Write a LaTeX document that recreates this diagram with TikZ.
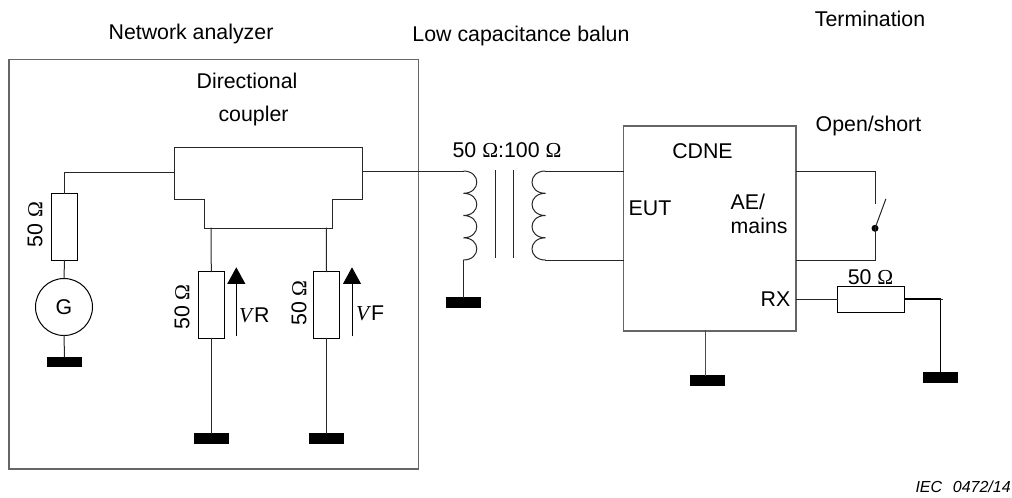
\documentclass[tikz,border=0pt]{standalone}
\usepackage{fontspec}
\setmainfont{Liberation Sans}
\newfontfamily\serifom{Liberation Serif}
\usetikzlibrary{arrows.meta}
\newcommand{\Om}{{\serifom Ω}}
\newcommand{\Vi}{{\serifom\itshape V}}
\tikzset{
  wire/.style={line width=0.75pt,black!85,line cap=rect},
  lbl/.style={inner sep=0pt,outer sep=0pt,font=\fontsize{16pt}{19pt}\selectfont},
  resv/.style={draw,line width=0.75pt,inner sep=0pt,outer sep=0pt,minimum width=19.8pt,minimum height=50pt},
  resh/.style={draw,line width=0.75pt,inner sep=0pt,outer sep=0pt,minimum width=50pt,minimum height=19.5pt},
  gnd/.style={fill=black,inner sep=0pt,outer sep=0pt,minimum width=26.25pt,minimum height=7.8pt},
  sense/.style={line width=0.75pt,-{Triangle[length=12.5pt,width=13.5pt]}},
  frame/.style={draw=black!60,line width=1.1pt,inner sep=0pt,outer sep=0pt},
}
\begin{document}
\begin{tikzpicture}[x=0.75pt,y=-0.75pt]
\useasboundingbox (0,0) rectangle (1012,497);
% enclosure
\node[frame,minimum width=307pt,minimum height=307.3pt] (analyzer) at (213.7,264.2) {};
% directional coupler
\coordinate (cA) at (174.3,147.3);
\coordinate (cB) at (362.7,147.3);
\coordinate (cC) at (362.7,199.3);
\coordinate (cD) at (332.3,199.3);
\coordinate (cE) at (332.3,228);
\coordinate (cF) at (204.7,228);
\coordinate (cG) at (204.7,199.3);
\coordinate (cH) at (174.3,199.3);
\draw[wire,line cap=butt,line join=miter] (cA)--(cB)--(cC)--(cD)--(cE)--(cF)--(cG)--(cH)--cycle;
\coordinate (cIn) at (174.3,172.3);
\coordinate (cOut) at (362.7,171);
\coordinate (cR) at (211,228);
\coordinate (cFw) at (326.3,228);
% source branch
\node[resv] (r1) at (64.5,227) {};
\node[draw,circle,line width=0.75pt,inner sep=0pt,outer sep=0pt,minimum size=42.75pt] (G) at (64,307) {};
\node[lbl] (Gt) at (64,307.5) {G};
\node[gnd] (g1) at (64.5,362) {};
\coordinate (k1) at (64.5,172.3);
\draw[wire] (cIn) -- (k1) -- (r1.north);
\draw[wire] (r1.south) -- (G.north);
\draw[wire] (G.south) -- (g1.north);
% reverse branch
\node[resv] (r2) at (211.3,305) {};
\node[gnd] (g2) at (211.3,438.3) {};
\draw[wire] (cR) -- (r2.north);
\draw[wire] (r2.south) -- (g2.north);
% forward branch
\node[resv] (r3) at (326.5,305) {};
\node[gnd] (g3) at (326.5,438.3) {};
\draw[wire] (cFw) -- (r3.north);
\draw[wire] (r3.south) -- (g3.north);
% sense arrows
\coordinate (aR0) at (236.3,336.3);
\coordinate (aR1) at (236.3,267.3);
\coordinate (aF0) at (352,336.3);
\coordinate (aF1) at (352,267.3);
\draw[sense] (aR0) -- (aR1);
\draw[sense] (aF0) -- (aF1);
% transformer
\coordinate (tp1) at (463.3,171);
\coordinate (tp2) at (463.3,193.3);
\coordinate (tp3) at (463.3,215.5);
\coordinate (tp4) at (463.3,237.8);
\coordinate (tp5) at (463.3,260);
\node[gnd] (g4) at (463.3,302.3) {};
\draw[wire] (cOut) -- (tp1);
\draw[wire,line cap=butt] (tp1) .. controls +(18,0) and +(18,0) .. (tp2)
  .. controls +(18,0) and +(18,0) .. (tp3)
  .. controls +(18,0) and +(18,0) .. (tp4)
  .. controls +(18,0) and +(18,0) .. (tp5);
\draw[wire] (tp5) -- (g4.north);
\coordinate (core1a) at (495,170);
\coordinate (core1b) at (495,257.7);
\coordinate (core2a) at (513,170);
\coordinate (core2b) at (513,257.7);
\draw[wire,line cap=butt] (core1a) -- (core1b);
\draw[wire,line cap=butt] (core2a) -- (core2b);
\coordinate (ts1) at (545.5,171);
\coordinate (ts2) at (545.5,193.3);
\coordinate (ts3) at (545.5,215.5);
\coordinate (ts4) at (545.5,237.8);
\coordinate (ts5) at (545.5,260);
\draw[wire,line cap=butt] (ts1) .. controls +(-18,0) and +(-18,0) .. (ts2)
  .. controls +(-18,0) and +(-18,0) .. (ts3)
  .. controls +(-18,0) and +(-18,0) .. (ts4)
  .. controls +(-18,0) and +(-18,0) .. (ts5);
% CDNE
\node[frame,minimum width=129.5pt,minimum height=153.75pt] (cdne) at (709.7,228.5) {};
\draw[wire] (ts1) -- (cdne.west |- ts1);
\draw[wire] (ts5) -- (cdne.west |- ts5);
\node[gnd] (g5) at (707.5,380.3) {};
\coordinate (g5t) at (705.7,375);
\draw[wire,black!70,line width=1pt] (cdne.south -| g5t) -- (g5t);
% open/short
\coordinate (swA) at (875,171);
\coordinate (swB) at (875,203.3);
\coordinate (swC) at (875,260);
\coordinate (swT) at (885.7,199.3);
\node[fill=black,circle,inner sep=0pt,outer sep=0pt,minimum size=5.25pt] (dot) at (875,228.3) {};
\draw[wire] (cdne.east |- swA) -- (swA) -- (swB);
\draw[wire] (dot.center) -- (swC) -- (cdne.east |- swC);
\draw[wire] (dot.center) -- (swT);
% RX load
\node[resh] (r4) at (870.7,299.7) {};
\node[gnd] (g6) at (940.3,377.5) {};
\coordinate (rxP) at (837,299.3);
\coordinate (k2) at (940.5,299.3);
\coordinate (k3) at (942.5,299.3);
\draw[wire] (cdne.east |- rxP) -- (r4.west |- rxP);
\draw[line width=1.3pt] (r4.east |- k2) -- (k2) -- (g6.north -| k2);
\draw[wire] (k2) -- (k3);
% labels
\node[lbl] (t1) at (191,34) {Network analyzer};
\node[lbl] (t2) at (521,36) {Low capacitance balun};
\node[lbl] (t3) at (870,18.5) {Termination};
\node[lbl] (t4) at (247,81) {Directional};
\node[lbl] (t5) at (253.5,116) {coupler};
\node[lbl] (t6) at (507,150) {50 \Om:100 \Om};
\node[lbl] (t7) at (702.5,151) {CDNE};
\node[lbl] (t8) at (868.5,126) {Open/short};
\node[lbl] (t9) at (650,208) {EUT};
\node[lbl,anchor=west] (t10) at (730.7,202) {AE/};
\node[lbl,anchor=west] (t11) at (730.7,226) {mains};
\node[lbl] (t12) at (775.5,299) {RX};
\node[lbl] (t13) at (870.5,277) {50 \Om};
\node[lbl,rotate=90] (t14) at (35,224.5) {50 \Om};
\node[lbl,rotate=90] (t15) at (182,307) {50 \Om};
\node[lbl,rotate=90] (t16) at (299,303) {50 \Om};
\node[lbl,anchor=west] (t17) at (239,315) {\Vi\hspace{1.5pt}\fontsize{16pt}{19pt}\selectfont R};
\node[lbl,anchor=west] (t18) at (356,313) {\Vi\hspace{1.5pt}\fontsize{16pt}{19pt}\selectfont F};
\node[inner sep=0pt,outer sep=0pt,anchor=east,font=\fontsize{12pt}{14pt}\selectfont\itshape] (t19) at (1010.7,487) {IEC\hspace{8pt}0472/14};
\end{tikzpicture}
\end{document}
